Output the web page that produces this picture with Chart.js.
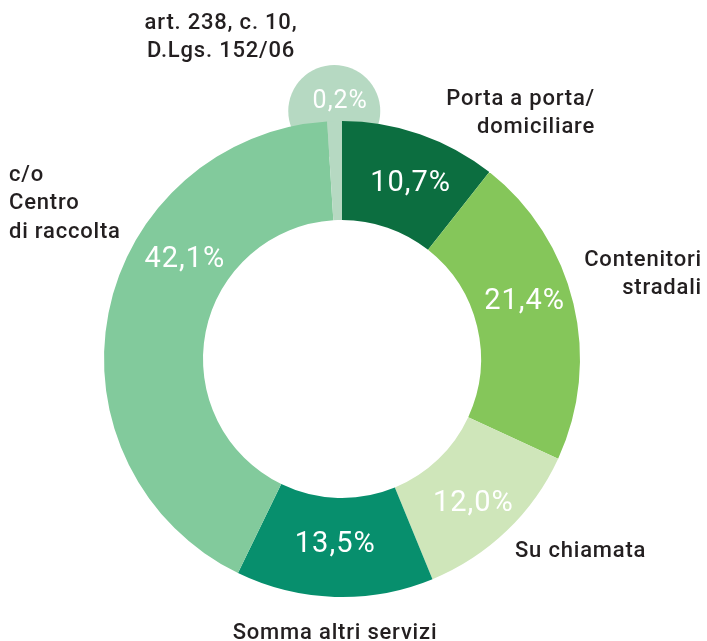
<!DOCTYPE html>
<html>
<head>
<meta charset="utf-8">
<script src="https://cdn.jsdelivr.net/npm/chart.js@4"></script>
<style>
  html, body { margin: 0; padding: 0; background: #fff; }
  #wrap { width: 707px; height: 641px; }
</style>
</head>
<body>
<div id="wrap"><canvas id="donut" width="707" height="641"></canvas></div>
<script>
// categories, shares (as printed) and drawn slice sizes (the tiny slice is drawn wider in the original)
const categories = [
  ['Porta a porta/', 'domiciliare'],
  ['Contenitori', 'stradali'],
  ['Su chiamata'],
  ['Somma altri servizi'],
  ['c/o', 'Centro', 'di raccolta'],
  ['art. 238, c. 10,', 'D.Lgs. 152/06']
];
const shares = [10.7, 21.4, 12.0, 13.5, 42.1, 0.2];
const sliceSizes = [10.7, 21.4, 12.0, 13.5, 42.1, 1.0];
const colors = ['#0c6e40', '#85c65a', '#cfe6ba', '#078f6d', '#82ca9c', '#b6d9c2'];

const fontFamily = 'Roboto, "DejaVu Sans", sans-serif';
const textColor = '#231f20';

function fmt(v) {
  return v.toFixed(1).replace('.', ',') + '%';
}

// bubble behind the small slice
const bubblePlugin = {
  id: 'bubble',
  beforeDatasetsDraw(chart) {
    const arc = chart.getDatasetMeta(0).data[5];
    const mid = (arc.startAngle + arc.endAngle) / 2;
    const d = arc.outerRadius + 10;
    const x = arc.x + Math.cos(mid) * d;
    const y = arc.y + Math.sin(mid) * d;
    const ctx = chart.ctx;
    ctx.save();
    ctx.fillStyle = colors[5];
    ctx.beginPath();
    ctx.arc(x, y, 46, 0, Math.PI * 2);
    ctx.fill();
    ctx.fillStyle = '#fff';
    ctx.font = '400 25px ' + fontFamily;
    ctx.letterSpacing = '1px';
    ctx.textAlign = 'center';
    ctx.textBaseline = 'middle';
    ctx.fillText(fmt(shares[5]), x + 6, y - 9);
    ctx.restore();
  }
};

// percentages inside the ring and category names outside
const labelPlugin = {
  id: 'labels',
  afterDatasetsDraw(chart) {
    const meta = chart.getDatasetMeta(0);
    const ctx = chart.ctx;
    const a0 = meta.data[0];
    const cx = a0.x, cy = a0.y, R = a0.outerRadius;
    // small nudges (degrees / px) to mimic the hand placed labels
    const nudge = [2.2, -4, 1.6, 0.3, 21.2];
    const push = [0, 3, 7, -3, -2.5];
    ctx.save();
    ctx.fillStyle = '#fff';
    ctx.font = '400 29px ' + fontFamily;
    ctx.letterSpacing = '1px';
    ctx.textAlign = 'center';
    ctx.textBaseline = 'middle';
    for (let i = 0; i < 5; i++) {
      const arc = meta.data[i];
      const mid = (arc.startAngle + arc.endAngle) / 2 + nudge[i] * Math.PI / 180;
      const r = (arc.innerRadius + arc.outerRadius) / 2 + push[i];
      ctx.fillText(fmt(shares[i]), arc.x + Math.cos(mid) * r, arc.y + Math.sin(mid) * r);
    }

    // outside names, anchored on the ring centre and radius
    ctx.fillStyle = textColor;
    ctx.font = '500 22px ' + fontFamily;
    ctx.letterSpacing = '0.8px';
    const lh = 28.5;
    const place = [
      { x: cx + R + 15, y: cy - 260, align: 'right' },
      { x: cx + R + 122, y: cy - 99, align: 'right' },
      { x: cx + R - 65, y: cy + 192, align: 'left' },
      { x: cx - 7, y: cy + 274, align: 'center' },
      { x: cx - R - 95, y: cy - 184, align: 'left' },
      { x: cx - 121, y: cy - 336, align: 'center' }
    ];
    categories.forEach((lines, i) => {
      const p = place[i];
      ctx.textAlign = p.align;
      lines.forEach((t, j) => ctx.fillText(t, p.x, p.y + j * lh));
    });
    ctx.restore();
  }
};

new Chart(document.getElementById('donut'), {
  type: 'doughnut',
  data: {
    labels: categories.map(c => c.join(' ')),
    datasets: [{
      data: sliceSizes,
      backgroundColor: colors,
      borderWidth: 0,
      hoverOffset: 0,
      offset: 0
    }]
  },
  options: {
    responsive: false,
    animation: false,
    cutout: '58.4%',
    layout: { padding: { left: 104, right: 127, top: 121, bottom: 44 } },
    plugins: {
      legend: { display: false },
      tooltip: { enabled: false }
    },
    events: []
  },
  plugins: [bubblePlugin, labelPlugin]
});
</script>
</body>
</html>
